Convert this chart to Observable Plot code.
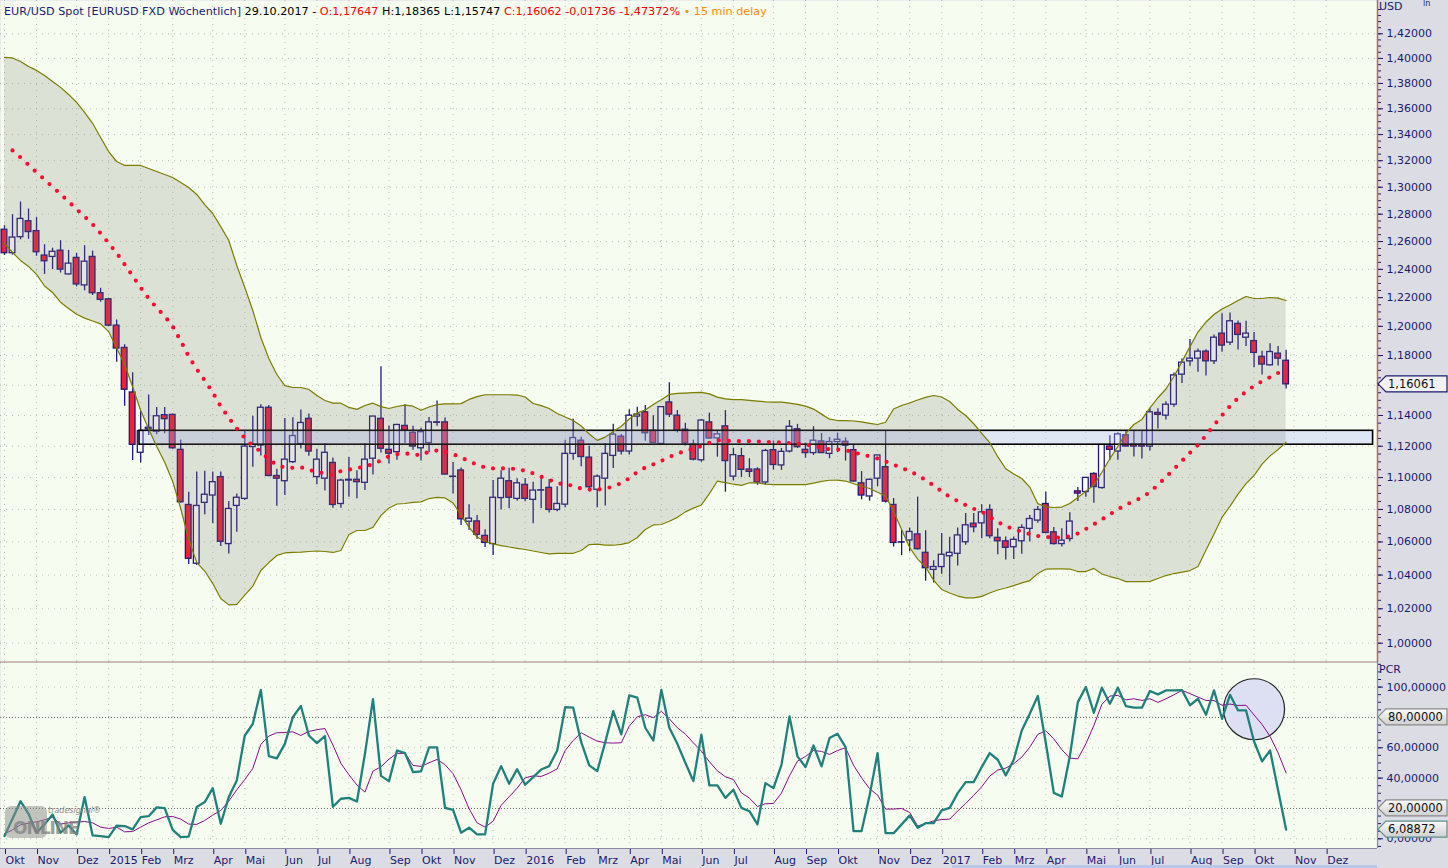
<!DOCTYPE html>
<html><head><meta charset="utf-8">
<script src="https://cdn.jsdelivr.net/npm/d3@7"></script>
<script src="https://cdn.jsdelivr.net/npm/@observablehq/plot@0.6"></script>
<style>
html,body{margin:0;padding:0;background:#dcdce5;width:1448px;height:868px;overflow:hidden;font-family:"DejaVu Sans",sans-serif}
#wrap{position:relative;width:1448px;height:868px}
#price,#pcr{position:absolute;left:0}
#price{top:0}
#pcr{top:662px}
#hdr{position:absolute;left:4px;top:5px;font-size:11.2px;white-space:nowrap;color:#000}
.abs{position:absolute}
</style></head><body>
<div id="wrap">
<div id="price"></div>
<div id="pcr"></div>
<div id="hdr"><span style="color:#1c1c78">EUR/USD Spot [EURUSD FXD Wöchentlich]</span> 29.10.2017 - <span style="color:#f00">O:1,17647</span> H:1,18365 L:1,15747 <span style="color:#f00">C:1,16062 -0,01736 -1,47372%</span> <span style="color:#ff8c00">• 15 min delay</span></div>
<div class="abs" style="left:1379px;top:0px;font-size:11px;color:#1a1a70">USD</div>
<div class="abs" style="left:1423px;top:-1px;font-size:8px;color:#1a1a70">ln</div>
<div class="abs" style="left:5px;top:806px;width:42px;height:32px;background:#8c8c8c;opacity:.5;border-radius:6px"></div>
<div class="abs" style="left:13px;top:818px;font-weight:bold;font-size:17px;color:#808080;opacity:.75;letter-spacing:-1px">ONLINE</div>
<div class="abs" style="left:48px;top:806px;font-style:italic;font-size:8px;color:#8a8a8a">tradesignal®</div>
<div class="abs" style="left:952px;top:865px;width:425px;height:3px;background:#b8c6ea"></div>
</div>
<script>
// ---------- DATA ----------
const firstWeek = "2014-10-05";   // weekly bars (Sunday dated)
const open = [1.2686,1.2516,1.2632,1.2748,1.2676,1.2499,1.2489,1.2534,1.2364,1.2482,1.2286,1.2489,1.2231,1.2188,1.2005,1.1852,1.1552,1.1158,1.1310,1.1294,1.1402,1.1404,1.1177,1.0828,1.0468,1.0841,1.0887,1.1003,1.0587,1.0822,1.0866,1.1195,1.1205,1.1451,1.1010,1.0977,1.1098,1.1215,1.1378,1.1003,1.0993,1.1093,1.0834,1.0981,1.0986,1.0967,1.1120,1.1378,1.1177,1.1162,1.1332,1.1287,1.1187,1.1221,1.1355,1.1355,1.1006,1.1045,1.0724,1.0726,1.0637,1.0587,1.0871,1.0977,1.0866,1.0954,1.0860,1.0918,1.0935,1.0797,1.0830,1.1151,1.1236,1.1127,1.0923,1.0993,1.1138,1.1262,1.1166,1.1393,1.1421,1.1300,1.1215,1.1486,1.1399,1.1307,1.1211,1.1110,1.1355,1.1251,1.1329,1.1006,1.1136,1.1051,1.1051,1.0969,1.1175,1.1077,1.1166,1.1310,1.1177,1.1156,1.1231,1.1151,1.1227,1.1229,1.1175,1.0964,1.0881,1.0993,1.1066,1.0828,1.0598,1.0609,1.0646,1.0534,1.0431,1.0448,1.0513,1.0528,1.0598,1.0712,1.0714,1.0797,1.0625,1.0604,1.0568,1.0604,1.0680,1.0731,1.0834,1.0659,1.0587,1.0618,1.0913,1.0909,1.1023,1.0934,1.1198,1.1166,1.1271,1.1211,1.1211,1.1198,1.1417,1.1399,1.1471,1.1671,1.1761,1.1779,1.1827,1.1761,1.1950,1.1888,1.2017,1.1922,1.1899,1.1791,1.1734,1.1813,1.17647];
const high = [1.2715,1.2797,1.2890,1.2838,1.2774,1.2577,1.2552,1.2606,1.2536,1.2514,1.2570,1.2531,1.2266,1.2195,1.2044,1.1873,1.1684,1.1428,1.1535,1.1453,1.1453,1.1410,1.1240,1.0907,1.1036,1.1040,1.1036,1.1036,1.0849,1.0897,1.1297,1.1395,1.1471,1.1465,1.1052,1.1381,1.1385,1.1436,1.1410,1.1180,1.1216,1.1125,1.0990,1.1128,1.1043,1.1214,1.1392,1.1725,1.1332,1.1343,1.1471,1.1330,1.1317,1.1387,1.1495,1.1383,1.1096,1.1060,1.0830,1.0762,1.0675,1.0981,1.1044,1.1059,1.0993,1.0994,1.0970,1.0993,1.0988,1.0942,1.1238,1.1376,1.1258,1.1200,1.1017,1.1218,1.1342,1.1276,1.1438,1.1454,1.1465,1.1398,1.1459,1.1616,1.1432,1.1349,1.1240,1.1374,1.1416,1.1298,1.1432,1.1187,1.1187,1.1120,1.1062,1.1180,1.1234,1.1186,1.1367,1.1342,1.1221,1.1327,1.1283,1.1257,1.1284,1.1254,1.1207,1.1038,1.0990,1.1143,1.1297,1.0868,1.0670,1.0685,1.0877,1.0668,1.0486,1.0652,1.0629,1.0685,1.0775,1.0775,1.0830,1.0829,1.0680,1.0630,1.0630,1.0706,1.0762,1.0819,1.0909,1.0688,1.0680,1.0780,1.0938,1.0999,1.1030,1.1209,1.1268,1.1285,1.1296,1.1296,1.1296,1.1445,1.1445,1.1490,1.1683,1.1777,1.1910,1.1845,1.1840,1.1940,1.2087,1.2092,1.2037,1.2035,1.1958,1.1830,1.1880,1.1861,1.18365];
const low = [1.2500,1.2502,1.2613,1.2616,1.2494,1.2364,1.2398,1.2374,1.2360,1.2276,1.2248,1.2215,1.2168,1.1998,1.1755,1.1460,1.1108,1.1093,1.1270,1.1275,1.1281,1.1180,1.0840,1.0463,1.0457,1.0767,1.0711,1.0572,1.0527,1.0659,1.0856,1.1066,1.1137,1.1005,1.0820,1.0887,1.1090,1.1183,1.1135,1.0955,1.0915,1.0808,1.0808,1.0876,1.0866,1.0918,1.1016,1.1157,1.1087,1.1110,1.1217,1.1175,1.1105,1.1160,1.1330,1.1016,1.0896,1.0701,1.0672,1.0617,1.0566,1.0517,1.0797,1.0805,1.0851,1.0848,1.0711,1.0804,1.0778,1.0785,1.0810,1.1110,1.1068,1.0918,1.0810,1.0822,1.1058,1.1144,1.1144,1.1326,1.1233,1.1216,1.1210,1.1387,1.1286,1.1202,1.1106,1.1097,1.1245,1.1130,1.0908,1.0980,1.1000,1.1000,1.0951,1.0952,1.1047,1.1046,1.1157,1.1186,1.1123,1.1141,1.1154,1.1120,1.1159,1.1105,1.0970,1.0860,1.0851,1.0943,1.0840,1.0569,1.0517,1.0540,1.0551,1.0363,1.0352,1.0405,1.0337,1.0454,1.0580,1.0656,1.0619,1.0620,1.0522,1.0491,1.0494,1.0525,1.0599,1.0714,1.0650,1.0581,1.0569,1.0600,1.0850,1.0876,1.0839,1.0926,1.1110,1.1110,1.1196,1.1131,1.1118,1.1170,1.1312,1.1371,1.1454,1.1612,1.1728,1.1688,1.1662,1.1740,1.1823,1.1868,1.1838,1.1861,1.1717,1.1669,1.1730,1.1730,1.15747];
const close = [1.2516,1.2629,1.2765,1.2669,1.2523,1.2458,1.2526,1.2398,1.2441,1.2293,1.2455,1.2231,1.2184,1.2005,1.1848,1.1570,1.1209,1.1299,1.1320,1.1395,1.1376,1.1187,1.0845,1.0498,1.0822,1.0892,1.0971,1.0601,1.0803,1.0873,1.1198,1.1209,1.1451,1.1010,1.0993,1.1114,1.1266,1.1351,1.1166,1.1114,1.1158,1.0828,1.0981,1.0986,1.0971,1.1114,1.1393,1.1184,1.1152,1.1338,1.1301,1.1198,1.1291,1.1355,1.1352,1.1019,1.1004,1.0739,1.0743,1.0644,1.0594,1.0873,1.0993,1.0873,1.0964,1.0866,1.0918,1.0920,1.0797,1.0834,1.1151,1.1253,1.1131,1.0939,1.1006,1.1151,1.1275,1.1166,1.1399,1.1406,1.1284,1.1221,1.1455,1.1406,1.1301,1.1218,1.1114,1.1367,1.1250,1.1277,1.1105,1.1143,1.1049,1.1036,1.0969,1.1170,1.1080,1.1164,1.1326,1.1194,1.1156,1.1236,1.1156,1.1227,1.1242,1.1204,1.0975,1.0887,1.0986,1.1141,1.0849,1.0594,1.0596,1.0661,1.0556,1.0441,1.0448,1.0522,1.0534,1.0640,1.0702,1.0690,1.0782,1.0635,1.0604,1.0564,1.0613,1.0686,1.0741,1.0797,1.0655,1.0587,1.0608,1.0725,1.0899,1.0998,1.0940,1.1209,1.1177,1.1277,1.1198,1.1198,1.1198,1.1421,1.1404,1.1471,1.1666,1.1752,1.1779,1.1827,1.1761,1.1922,1.1868,1.2035,1.1941,1.1950,1.1818,1.1739,1.1824,1.1779,1.16062];
const movingAvg = [null,1.3278,1.3225,1.3168,1.3111,1.3058,1.3002,1.2950,1.2893,1.2836,1.2783,1.2725,1.2660,1.2589,1.2517,1.2435,1.2353,1.2270,1.2194,1.2129,1.2071,1.1999,1.1900,1.1793,1.1708,1.1632,1.1552,1.1459,1.1385,1.1315,1.1252,1.1202,1.1166,1.1115,1.1080,1.1063,1.1062,1.1066,1.1048,1.1037,1.1025,1.1016,1.1041,1.1050,1.1060,1.1070,1.1085,1.1109,1.1136,1.1149,1.1153,1.1150,1.1141,1.1166,1.1173,1.1166,1.1150,1.1126,1.1106,1.1080,1.1064,1.1058,1.1058,1.1058,1.1054,1.1043,1.1026,1.1005,1.0986,1.0965,1.0956,1.0949,1.0930,1.0924,1.0924,1.0930,1.0944,1.0965,1.0996,1.1035,1.1064,1.1084,1.1106,1.1131,1.1153,1.1169,1.1184,1.1201,1.1223,1.1238,1.1235,1.1233,1.1233,1.1233,1.1231,1.1228,1.1226,1.1225,1.1220,1.1217,1.1211,1.1201,1.1192,1.1180,1.1179,1.1174,1.1162,1.1146,1.1136,1.1121,1.1103,1.1082,1.1061,1.1041,1.1015,1.0984,1.0949,1.0914,1.0878,1.0852,1.0827,1.0804,1.0787,1.0753,1.0723,1.0697,1.0678,1.0663,1.0648,1.0636,1.0630,1.0626,1.0628,1.0634,1.0652,1.0679,1.0708,1.0738,1.0769,1.0802,1.0829,1.0852,1.0874,1.0909,1.0954,1.1003,1.1054,1.1106,1.1158,1.1208,1.1270,1.1336,1.1401,1.1462,1.1514,1.1558,1.1595,1.1627,1.1654,1.1682,1.1708];
const upperBand = [1.4008,1.4004,1.3976,1.3936,1.3904,1.3864,1.3816,1.3769,1.3713,1.3650,1.3572,1.3487,1.3378,1.3270,1.3194,1.3164,1.3164,1.3164,1.3141,1.3118,1.3096,1.3073,1.3036,1.2998,1.2946,1.2871,1.2805,1.2709,1.2608,1.2428,1.2271,1.2110,1.1923,1.1780,1.1672,1.1598,1.1585,1.1585,1.1572,1.1532,1.1499,1.1481,1.1481,1.1453,1.1440,1.1466,1.1481,1.1458,1.1446,1.1459,1.1468,1.1461,1.1434,1.1456,1.1471,1.1477,1.1477,1.1478,1.1506,1.1524,1.1537,1.1537,1.1537,1.1537,1.1535,1.1522,1.1479,1.1465,1.1446,1.1413,1.1390,1.1367,1.1331,1.1279,1.1238,1.1259,1.1295,1.1330,1.1377,1.1417,1.1436,1.1473,1.1504,1.1539,1.1546,1.1548,1.1551,1.1553,1.1543,1.1521,1.1510,1.1504,1.1504,1.1499,1.1494,1.1490,1.1488,1.1488,1.1482,1.1473,1.1462,1.1442,1.1409,1.1376,1.1367,1.1367,1.1364,1.1358,1.1349,1.1341,1.1356,1.1443,1.1466,1.1482,1.1502,1.1519,1.1532,1.1522,1.1492,1.1440,1.1400,1.1346,1.1284,1.1224,1.1133,1.1056,1.1023,1.0994,1.0940,1.0836,1.0816,1.0812,1.0815,1.0837,1.0875,1.0913,1.0953,1.1034,1.1120,1.1199,1.1283,1.1341,1.1374,1.1450,1.1517,1.1575,1.1659,1.1759,1.1861,1.1961,1.2030,1.2082,1.2120,1.2148,1.2180,1.2208,1.2194,1.2194,1.2201,1.2197,1.2180];
const lowerBand = [1.2586,1.2521,1.2464,1.2421,1.2364,1.2282,1.2236,1.2168,1.2124,1.2084,1.2057,1.2037,1.2017,1.1964,1.1851,1.1739,1.1588,1.1433,1.1312,1.1199,1.1097,1.0975,1.0806,1.0615,1.0475,1.0424,1.0349,1.0261,1.0223,1.0226,1.0281,1.0334,1.0427,1.0475,1.0518,1.0533,1.0536,1.0538,1.0542,1.0545,1.0542,1.0536,1.0548,1.0646,1.0670,1.0670,1.0689,1.0763,1.0809,1.0834,1.0837,1.0844,1.0847,1.0868,1.0875,1.0872,1.0840,1.0766,1.0689,1.0630,1.0603,1.0588,1.0578,1.0569,1.0561,1.0554,1.0545,1.0536,1.0528,1.0530,1.0531,1.0531,1.0548,1.0584,1.0587,1.0581,1.0580,1.0585,1.0596,1.0627,1.0676,1.0704,1.0707,1.0727,1.0751,1.0785,1.0808,1.0828,1.0899,1.0978,1.0968,1.0958,1.0951,1.0967,1.0966,1.0959,1.0955,1.0955,1.0955,1.0955,1.0955,1.0965,1.0976,1.0983,1.0984,1.0978,1.0961,1.0945,1.0931,1.0907,1.0883,1.0788,1.0676,1.0566,1.0496,1.0448,1.0368,1.0314,1.0293,1.0275,1.0264,1.0264,1.0273,1.0293,1.0311,1.0323,1.0337,1.0353,1.0367,1.0409,1.0436,1.0437,1.0437,1.0436,1.0421,1.0421,1.0440,1.0406,1.0391,1.0379,1.0361,1.0361,1.0361,1.0362,1.0379,1.0397,1.0409,1.0418,1.0427,1.0451,1.0551,1.0649,1.0751,1.0821,1.0896,1.0962,1.1013,1.1085,1.1138,1.1179,1.1226];
const pcr = [1.8,13.2,24.8,16.5,4.0,9.5,16.0,4.0,8.8,2.9,27.5,2.2,1.8,1.1,8.6,8.4,6.2,14.3,14.9,20.7,20.2,5.9,1.1,1.5,20.9,24.2,33.4,9.9,27.5,38.5,68.1,75.8,98.2,54.5,53.0,62.6,80.2,87.5,68.1,63.1,67.7,21.1,26.4,27.0,24.6,56.0,92.1,41.5,38.0,58.2,56.5,44.0,44.4,60.2,60.2,20.4,19.1,4.0,7.3,2.9,2.9,36.3,47.9,36.3,45.9,35.6,40.7,45.7,47.9,58.2,86.8,86.4,63.7,48.4,44.6,63.7,84.2,68.8,94.5,93.0,73.2,64.8,98.2,73.2,62.6,50.1,38.0,68.6,35.2,35.2,27.0,32.3,20.4,18.2,9.5,36.7,33.4,48.8,80.7,54.3,47.3,61.5,47.7,66.4,69.2,60.4,5.1,5.1,28.6,56.5,3.7,3.7,9.5,15.4,7.3,10.3,10.3,18.7,20.4,30.1,37.4,37.4,47.3,56.5,52.1,41.8,52.1,71.4,82.4,94.1,63.1,30.3,27.9,54.3,90.1,100,83.1,99.6,89.0,99.6,87.5,86.4,86.4,97.4,95.2,97.8,97.8,98.0,88.0,92.3,81.7,97.8,79.1,94.9,84.6,84.6,64.1,51.0,58.2,32.0,6.08872];
const pcrSignal = [3.3,5.9,9.2,10.3,11.2,12.5,14.1,9.7,10.5,11.0,11.4,10.5,7.7,6.8,7.7,4.6,4.8,7.7,10.5,12.5,14.5,14.7,13.0,9.7,9.5,12.1,15.6,18.7,24.8,32.3,39.1,46.4,62.2,67.7,69.9,70.1,70.5,68.1,70.8,71.9,72.7,61.8,49.7,42.2,35.4,30.8,44.6,47.5,52.5,56.3,56.3,48.4,47.7,50.1,52.3,48.8,42.9,32.3,19.8,10.5,7.7,11.6,22.0,27.7,33.4,40.2,41.5,41.1,43.3,46.1,58.2,64.8,69.9,67.0,64.4,63.3,63.1,63.3,74.3,80.4,81.8,79.8,84.0,79.1,73.2,69.0,63.3,57.8,50.8,44.8,40.9,39.1,30.3,26.8,21.3,23.1,23.3,30.1,41.5,51.2,54.3,58.2,57.6,55.6,58.2,60.0,48.4,40.2,33.0,28.8,19.6,19.6,20.0,17.4,8.4,10.1,11.9,12.7,13.0,18.3,23.3,28.6,34.3,41.3,45.3,46.6,49.5,53.8,60.4,68.8,71.2,65.9,58.7,53.2,52.7,62.6,74.7,88.6,94.1,94.5,91.6,92.3,91.2,92.3,89.9,92.3,94.9,97.8,95.7,93.4,91.2,91.1,88.0,88.8,87.9,88.0,81.6,75.4,67.5,56.6,43.5];
const priceTicks = [1.00,1.02,1.04,1.06,1.08,1.10,1.12,1.14,1.16,1.18,1.20,1.22,1.24,1.26,1.28,1.30,1.32,1.34,1.36,1.38,1.40,1.42];
const pcrTicks = [0,20,40,60,80,100];
const monthTicks = ["2014-10-05","2014-11-02","2014-12-07","2015-01-04","2015-02-01","2015-03-01","2015-04-05","2015-05-03","2015-06-07","2015-07-05","2015-08-02","2015-09-06","2015-10-04","2015-11-01","2015-12-06","2016-01-03","2016-02-07","2016-03-06","2016-04-03","2016-05-01","2016-06-05","2016-07-03","2016-08-07","2016-09-04","2016-10-02","2016-11-06","2016-12-04","2017-01-01","2017-02-05","2017-03-05","2017-04-02","2017-05-07","2017-06-04","2017-07-02","2017-08-06","2017-09-03","2017-10-01","2017-11-05","2017-12-03"];
const monthLabels = ["Okt","Nov","Dez","2015","Feb","Mrz","Apr","Mai","Jun","Jul","Aug","Sep","Okt","Nov","Dez","2016","Feb","Mrz","Apr","Mai","Jun","Jul","Aug","Sep","Okt","Nov","Dez","2017","Feb","Mrz","Apr","Mai","Jun","Jul","Aug","Sep","Okt","Nov","Dez"];
const zone = {start: "2015-01-31", end: "2018-01-13", low: 1.1210, high: 1.1300};
const highlight = {date: "2017-10-01", value: 85.4};
const lastPrice = 1.16061;
const pcrLevels = [80, 20];
const lastPcr = 6.08872;

// ---------- SCALES / LAYOUT ----------
const DAY = 864e5, WEEK = 7 * DAY;
const t0 = Date.parse(firstWeek);
const xDomain = [new Date(t0 - 0.4994 * WEEK), new Date(t0 + 171.41 * WEEK)];
const W = 1448, MR = 71;
const navy = "#1a1a70";
const bg = "#f6fcef";
const fmt = d => d.toFixed(5).replace(".", ",");
// axis labels hidden where a value tag sits on top of them (as in the reference)
const priceFmt = d => Math.abs(d - 1.16) < 1e-9 ? "" : fmt(d);
const pcrFmt = d => pcrLevels.includes(d) ? "" : fmt(d);

const bars = open.map((o, i) => ({
  date: new Date(t0 + i * WEEK), o, h: high[i], l: low[i], c: close[i],
  ma: movingAvg[i], up: upperBand[i], lo: lowerBand[i], pcr: pcr[i], sig: pcrSignal[i]
}));
const half = 2.5 * DAY;
const tickDates = monthTicks.map(s => new Date(s));
const labelOf = new Map(tickDates.map((d, i) => [+d, monthLabels[i]]));
const minorPrice = d3.range(0, 90).map(k => 0.995 + k * 0.005).filter(v => v > 0.99 && v < 1.445);
const minorPcr = d3.range(-5, 116, 5);
const gridStyle = {stroke: "#8e9488", strokeOpacity: 0.55, strokeDasharray: "1,5"};

const price = Plot.plot({
  width: W, height: 662, marginLeft: 0, marginRight: MR, marginTop: 0, marginBottom: 0,
  style: {fontFamily: "DejaVu Sans", fontSize: "11px", background: "transparent", overflow: "visible"},
  x: {type: "utc", domain: xDomain, axis: null},
  y: {type: "log", domain: [0.98896, 1.44747]},
  marks: [
    Plot.frame({fill: bg, stroke: null}),
    Plot.gridY({ticks: priceTicks, ...gridStyle}),
    Plot.gridX({ticks: tickDates, ...gridStyle}),
    Plot.ruleX(bars, {x: "date", y1: "l", y2: "h", stroke: "#22187a", strokeWidth: 1.3}),
    Plot.rect(bars.filter(d => d.c < d.o), {x1: d => new Date(+d.date - half), x2: d => new Date(+d.date + half), y1: "o", y2: "c", fill: "#f0203c", stroke: "#22187a", strokeWidth: 1.3}),
    Plot.rect(bars.filter(d => d.c >= d.o), {x1: d => new Date(+d.date - half), x2: d => new Date(+d.date + half), y1: "o", y2: "c", fill: "#ffffff", stroke: "#22187a", strokeWidth: 1.3}),
    Plot.rect([zone], {x1: d => new Date(d.start), x2: d => new Date(d.end), y1: "low", y2: "high", fill: "#aeb8ff", fillOpacity: 0.32, stroke: "#000", strokeWidth: 1.6}),
    Plot.areaY(bars, {x: "date", y1: "lo", y2: "up", fill: "#777770", fillOpacity: 0.2}),
    Plot.line(bars, {x: "date", y: "up", stroke: "#7c7c00", strokeWidth: 1.2}),
    Plot.line(bars, {x: "date", y: "lo", stroke: "#7c7c00", strokeWidth: 1.2}),
    Plot.line(bars, {x: "date", y: "ma", stroke: "#ff0a30", strokeWidth: 4.2, strokeDasharray: "0,10", strokeLinecap: "round"}),
    Plot.axisY({anchor: "right", ticks: minorPrice, tickSize: 3, tickFormat: () => "", color: navy, label: null}),
    Plot.axisY({anchor: "right", ticks: priceTicks, tickSize: 5, tickPadding: 4, tickFormat: priceFmt, color: navy, label: null}),
    Plot.ruleX([xDomain[1]], {stroke: "#b06a6a", strokeWidth: 1.5}),
    Plot.ruleY([0.98896], {stroke: "#a08080", strokeWidth: 2})
  ]
});
document.getElementById("price").appendChild(price);

const pcrPlot = Plot.plot({
  width: W, height: 206, marginLeft: 0, marginRight: MR, marginTop: 0, marginBottom: 20,
  style: {fontFamily: "DejaVu Sans", fontSize: "11px", background: "transparent", overflow: "visible"},
  x: {type: "utc", domain: xDomain},
  y: {domain: [-6.39, 116.2]},
  marks: [
    Plot.frame({fill: bg, stroke: null}),
    Plot.gridY({ticks: [0, 40, 60, 100], ...gridStyle}),
    Plot.gridX({ticks: tickDates, ...gridStyle}),
    Plot.gridY({ticks: pcrLevels, stroke: "#555", strokeOpacity: 0.9, strokeDasharray: "1,2"}),
    Plot.dot([highlight], {x: d => new Date(d.date), y: "value", r: 30.5, fill: "#dce0f2", stroke: "#222", strokeWidth: 1.2}),
    Plot.line(bars, {x: "date", y: "sig", stroke: "#8a0a8a", strokeWidth: 1}),
    Plot.line(bars, {x: "date", y: "pcr", stroke: "#21807c", strokeWidth: 2.3}),
    Plot.axisY({anchor: "right", ticks: minorPcr.filter(v => v >= -5 && v <= 115), tickSize: 3, tickFormat: () => "", color: navy, label: null}),
    Plot.axisY({anchor: "right", ticks: pcrTicks, tickSize: 5, tickPadding: 4, tickFormat: pcrFmt, color: navy, label: null}),
    Plot.axisX({ticks: tickDates, tickFormat: d => labelOf.get(+d), tickSize: 6, tickPadding: 2, textAnchor: "start", dx: 1, color: navy, label: null}),
    Plot.ruleX([xDomain[1]], {stroke: "#8888a0", strokeWidth: 1.2}),
    Plot.ruleY([-6.39], {stroke: "#8888a0", strokeWidth: 1.2})
  ]
});
document.getElementById("pcr").appendChild(pcrPlot);

// ---------- value tags on the right axis ----------
function tag(svgEl, y, text, fill, stroke, textColor) {
  const g = d3.select(svgEl).append("g").attr("text-anchor", "start");
  const x0 = 1378, x1 = 1386, x2 = 1447, h = 16;
  g.append("path")
    .attr("d", `M${x0},${y} L${x1},${y - h / 2} L${x2},${y - h / 2} L${x2},${y + h / 2} L${x1},${y + h / 2} Z`)
    .attr("fill", fill).attr("stroke", stroke).attr("stroke-width", 1.2);
  g.append("text").attr("x", 1388).attr("y", y).attr("dy", "0.36em").attr("text-anchor", "start")
    .attr("fill", textColor).attr("font-size", 11.5).attr("font-family", "DejaVu Sans").text(text);
}
const defs = d3.select(pcrPlot).append("defs");
const grad = defs.append("linearGradient").attr("id", "tg").attr("x1", 0).attr("y1", 0).attr("x2", 0).attr("y2", 1);
grad.append("stop").attr("offset", "0%").attr("stop-color", "#fbfbfb");
grad.append("stop").attr("offset", "100%").attr("stop-color", "#cfcfcf");
const py = price.scale("y");
tag(price, py.apply(lastPrice), fmt(lastPrice), "#f2f2f6", navy, "#111");
const qy = pcrPlot.scale("y");
pcrLevels.forEach(v => tag(pcrPlot, qy.apply(v), fmt(v), "url(#tg)", "#8a8a8a", "#111"));
tag(pcrPlot, qy.apply(lastPcr), fmt(lastPcr), "url(#tg)", "#5f8f8c", "#111");
d3.select(pcrPlot).append("text").attr("x", 1379).attr("y", 7).attr("dy", "0.36em").attr("text-anchor", "start")
  .attr("fill", navy).attr("font-size", 11).attr("font-family", "DejaVu Sans").text("PCR");
</script>
</body></html>
